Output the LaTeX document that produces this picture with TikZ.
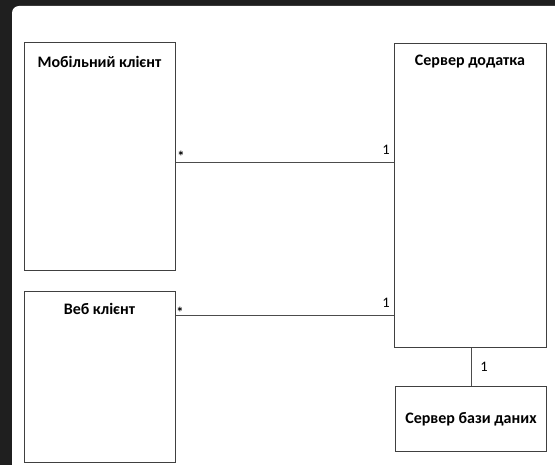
\documentclass[tikz,border=0pt]{standalone}
\usepackage{fontspec}
\setmainfont{Carlito}
\begin{document}
\begin{tikzpicture}[x=1pt,y=-1pt,
  box/.style={draw=black!75,line width=1pt,fill=white,minimum width=151pt,inner sep=0pt,anchor=north west},
  ttl/.style={font=\bfseries\fontsize{16}{19}\selectfont,inner sep=0pt},
  mult/.style={font=\fontsize{14.5}{17}\selectfont,inner sep=0pt},
  conn/.style={draw=black!70,line width=1pt}]
\useasboundingbox (0,0) rectangle (555,465);
\fill[black!88] (0,0) rectangle (555,465);
\fill[white,rounded corners=7pt] (12,6) rectangle (575,485);
% boxes
\node[box,minimum height=228pt] (mob) at (24,42) {};
\node[box,minimum height=171pt] (web) at (24,291) {};
\node[box,minimum width=152pt,minimum height=304pt] (app) at (394,43) {};
\node[box,minimum width=151pt,minimum height=65pt] (db) at (395,386) {};
% titles
\node[ttl] (tmob) at (99.5,62) {Мобільний клієнт};
\node[ttl] (tapp) at (470,62) {Сервер додатка};
\node[ttl] (tweb) at (99.5,309) {Веб клієнт};
\node[ttl] (tdb) at (db.center) {Сервер бази даних};
% connectors
\coordinate (y1) at (0,163);
\coordinate (y2) at (0,316);
\draw[conn] (mob.east |- y1) -- (app.west |- y1);
\draw[conn] (web.east |- y2) -- (app.west |- y2);
\draw[conn] (app.south -| 471,0) -- (db.north -| 471,0);
% multiplicities
\node[mult,font=\bfseries\fontsize{14.5}{17}\selectfont] (m1) at (181,156) {*};
\node[mult] (m2) at (386,150) {1};
\node[mult,font=\bfseries\fontsize{14.5}{17}\selectfont] (m3) at (180,312) {*};
\node[mult] (m4) at (386,303) {1};
\node[mult] (m5) at (484,367) {1};
\end{tikzpicture}
\end{document}
